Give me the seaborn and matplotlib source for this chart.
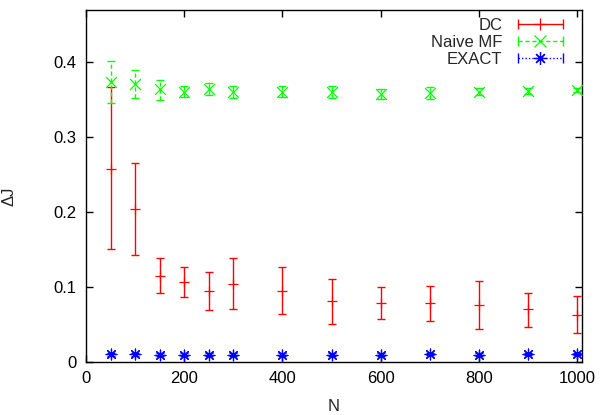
import numpy as np
import pandas as pd
import seaborn as sns
import matplotlib
matplotlib.use("Agg")
import matplotlib.pyplot as plt
from matplotlib.lines import Line2D
from matplotlib.legend_handler import HandlerLine2D, HandlerTuple

# dados
N = [50, 100, 150, 200, 250, 300, 400, 500, 600, 700, 800, 900, 1000]

dc_mean = [0.258, 0.204, 0.115, 0.107, 0.095, 0.104, 0.095, 0.081, 0.079, 0.078, 0.076, 0.070, 0.063]
dc_low = [0.150, 0.143, 0.092, 0.087, 0.069, 0.070, 0.064, 0.051, 0.057, 0.054, 0.044, 0.047, 0.039]
dc_high = [0.367, 0.265, 0.138, 0.127, 0.120, 0.138, 0.127, 0.110, 0.100, 0.101, 0.108, 0.092, 0.088]

mf_mean = [0.374, 0.371, 0.364, 0.361, 0.364, 0.361, 0.361, 0.360, 0.358, 0.359, 0.361, 0.362, 0.363]
mf_low = [0.346, 0.352, 0.350, 0.354, 0.357, 0.353, 0.354, 0.352, 0.351, 0.351, 0.356, 0.358, 0.360]
mf_high = [0.402, 0.390, 0.377, 0.369, 0.373, 0.369, 0.368, 0.368, 0.365, 0.367, 0.366, 0.366, 0.366]

ex_mean = [0.010, 0.010, 0.009, 0.009, 0.009, 0.009, 0.009, 0.009, 0.009, 0.010, 0.009, 0.010, 0.010]
ex_low = [0.008, 0.008, 0.008, 0.008, 0.008, 0.008, 0.008, 0.008, 0.008, 0.009, 0.008, 0.009, 0.009]
ex_high = [0.012, 0.012, 0.011, 0.011, 0.011, 0.011, 0.011, 0.011, 0.011, 0.011, 0.011, 0.011, 0.011]

y_ticks = [0, 0.1, 0.2, 0.3, 0.4]
y_tick_labels = ["0", "0.1", "0.2", "0.3", "0.4"]
x_ticks = [0, 200, 400, 600, 800, 1000]

sns.set_style("ticks")
plt.rcParams['font.family'] = ['Liberation Sans', 'DejaVu Sans']

fig = plt.figure(figsize=(6.02, 4.15), dpi=100)
ax = fig.add_axes([0.1429, 0.1284, 0.8239, 0.8475])

series = [
    ("DC", dc_mean, dc_low, dc_high, "#ff0000", "-", "+"),
    ("Naive MF", mf_mean, mf_low, mf_high, "#00ff00", (0, (3, 2)), "x"),
    ("EXACT", ex_mean, ex_low, ex_high, "#0000ff", (0, (1, 1.5)), (8, 2, 0)),
]

handles = []
hmap = {}
for nome, m, lo, hi, cor, ls, mk in series:
    df = pd.DataFrame({"N": N, "dJ": m})
    err = [np.array(m) - np.array(lo), np.array(hi) - np.array(m)]
    eb = ax.errorbar(N, m, yerr=err, fmt="none", ecolor=cor, elinewidth=1.0,
                     capsize=2.6, capthick=1.0)
    eb[2][0].set_linestyle(ls)
    sns.scatterplot(data=df, x="N", y="dJ", ax=ax, marker=mk, color=cor,
                    s=60, linewidth=0.9, edgecolor=cor, zorder=3, legend=False)
    cap = Line2D([], [], color=cor, linestyle=ls, lw=1.0, marker="|",
                 markersize=7, markeredgewidth=1.0)
    centro = Line2D([], [], color=cor, linestyle="none", marker=mk,
                    markersize=9, markeredgewidth=0.9)
    hmap[cap] = HandlerLine2D(numpoints=2)
    handles.append((cap, centro))

hmap[tuple] = HandlerTuple(ndivide=1, pad=0)

ax.set_xlim(0, 1010)
ax.set_ylim(0, 0.47)
ax.set_xticks(x_ticks)
ax.set_yticks(y_ticks)
ax.set_yticklabels(y_tick_labels)
ax.tick_params(direction="in", top=True, right=True, length=5, width=1,
               labelsize=12, pad=7, colors="black")
for s in ax.spines.values():
    s.set_linewidth(1.0)
    s.set_color("black")

ax.set_xlabel("N", fontsize=12)
ax.set_ylabel("ΔJ", fontsize=12)
ax.xaxis.set_label_coords(0.5, -0.105)
ax.yaxis.set_label_coords(-0.14, 0.47)

ax.legend(handles, ["DC", "Naive MF", "EXACT"], handler_map=hmap,
          loc="upper right", bbox_to_anchor=(0.991, 1.005), frameon=False,
          markerfirst=False, handlelength=3.3, handletextpad=0.6,
          labelspacing=0.1, fontsize=12, borderaxespad=0.2)

plt.savefig("out.png", dpi=100)
